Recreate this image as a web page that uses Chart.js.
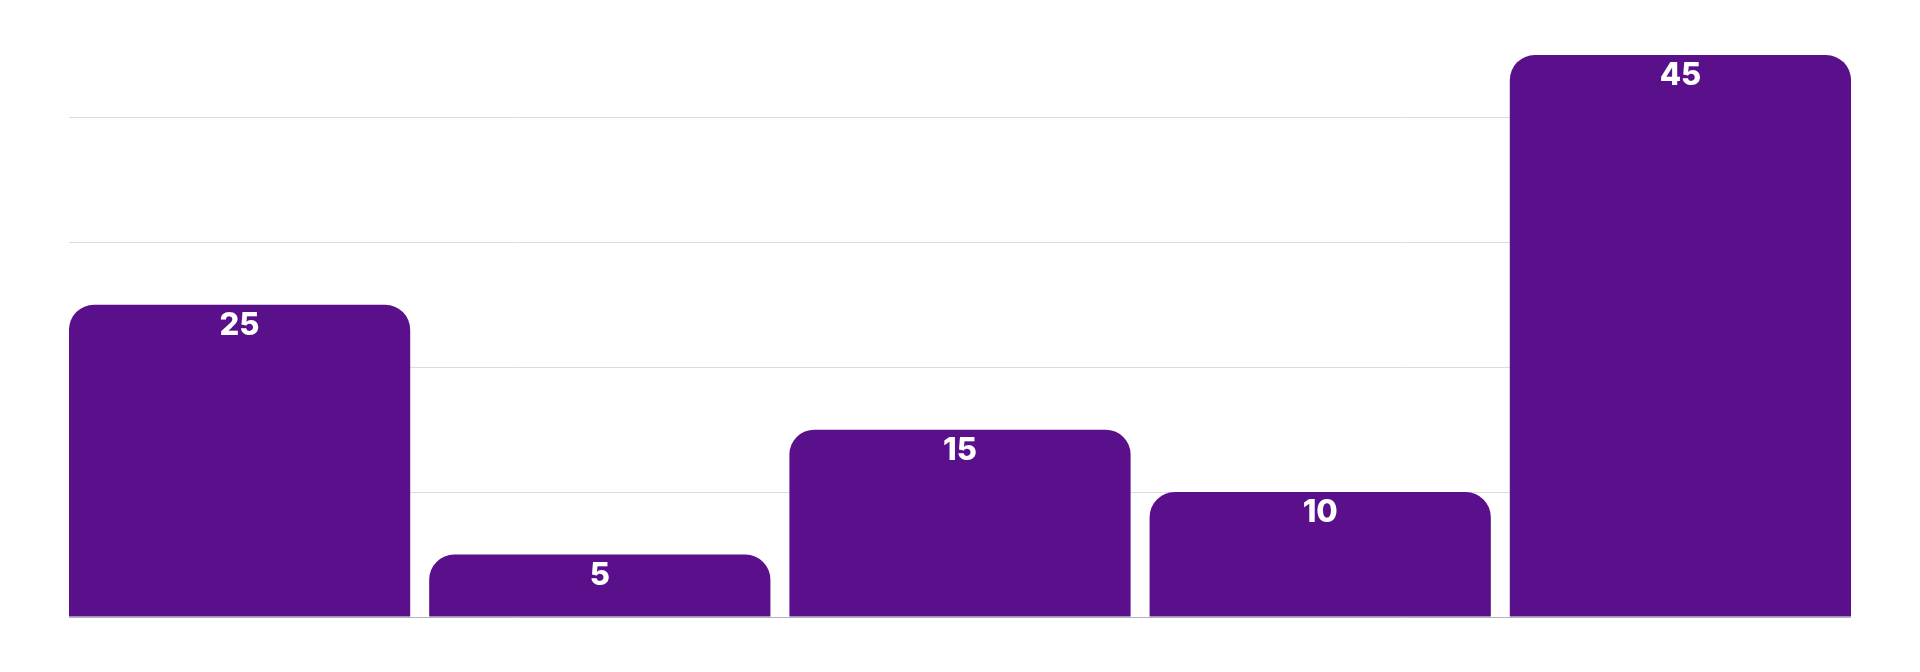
<!DOCTYPE html>
<html>
<head>
<meta charset="utf-8">
<script src="https://cdn.jsdelivr.net/npm/chart.js@4"></script>
<style>
  html, body { margin: 0; padding: 0; background: #fff; }
  #wrap { width: 1920px; height: 672px; }
</style>
</head>
<body>
<div id="wrap"><canvas id="barChart"></canvas></div>
<script>
const categories = ['A', 'B', 'C', 'D', 'E'];
const values = [25, 5, 15, 10, 45];
const yTicks = [0, 10, 20, 30, 40];

// white value labels just inside the top of each bar
const barLabels = {
  id: 'barLabels',
  afterDatasetsDraw(chart) {
    const ctx = chart.ctx;
    const meta = chart.getDatasetMeta(0);
    ctx.save();
    ctx.fillStyle = '#ffffff';
    ctx.font = '800 31px Inter, "DejaVu Sans", sans-serif';
    ctx.textAlign = 'center';
    ctx.textBaseline = 'middle';
    meta.data.forEach((bar, i) => {
      ctx.fillText(String(values[i]), bar.x, bar.y + 21);
    });
    ctx.restore();
  }
};

// bars sit flush with both ends of the plot, gaps only between them,
// so the x axis is a hidden linear scale trimmed by half a gap each side
const ctxBar = document.getElementById('barChart').getContext('2d');
new Chart(ctxBar, {
  type: 'bar',
  data: {
    labels: categories,
    datasets: [{
      data: values.map((v, i) => ({ x: i, y: v })),
      backgroundColor: '#5a108a',
      borderRadius: 25,
      borderSkipped: 'start',
      categoryPercentage: 1,
      barPercentage: 0.9473
    }]
  },
  options: {
    responsive: true,
    maintainAspectRatio: false,
    animation: false,
    layout: { padding: { left: 69, right: 69, top: 55, bottom: 55 } },
    plugins: { legend: { display: false }, tooltip: { enabled: false } },
    scales: {
      x: {
        type: 'linear',
        display: false,
        min: -0.4736,
        max: 4.4736,
        offset: false,
        afterBuildTicks(axis) { axis.ticks = categories.map((c, i) => ({ value: i })); }
      },
      y: {
        min: 0,
        max: 45,
        afterBuildTicks(axis) { axis.ticks = yTicks.map(v => ({ value: v })); },
        ticks: { display: false },
        border: { display: false },
        grid: {
          drawTicks: false,
          lineWidth: 1,
          color: c => (c.tick && c.tick.value === 0) ? '#b4b4b4' : '#dcdcdc'
        }
      }
    }
  },
  plugins: [barLabels]
});
</script>
</body>
</html>
